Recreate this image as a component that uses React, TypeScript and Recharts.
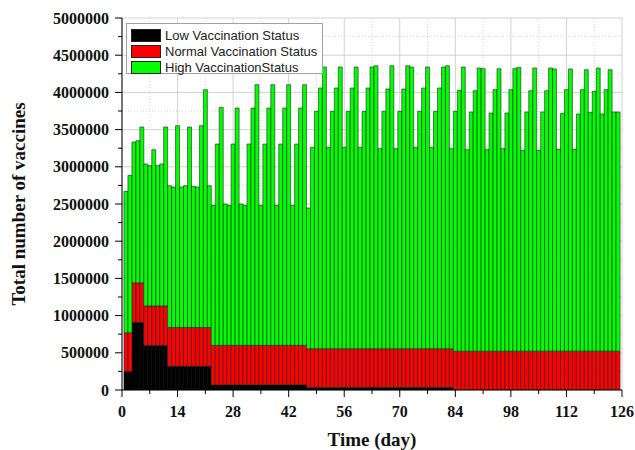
import React from 'react';
import { BarChart, Bar, XAxis, YAxis, CartesianGrid, Legend } from 'recharts';

document.body.style.margin = '0';

// day index of every bar (1..125)
const days: number[] = Array.from({ length: 125 }, (_, i) => i + 1);

// black layer
const lowVaccination = [
  250000, 250000,
  910000, 910000, 910000,
  600000, 600000, 600000, 600000, 600000, 600000,
  320000, 320000, 320000, 320000, 320000, 320000, 320000, 320000, 320000, 320000, 320000,
  70000, 70000, 70000, 70000, 70000, 70000, 70000, 70000, 70000, 70000, 70000, 70000,
  70000, 70000, 70000, 70000, 70000, 70000, 70000, 70000, 70000, 70000, 70000, 70000,
  35000, 35000, 35000, 35000, 35000, 35000, 35000, 35000, 35000, 35000, 35000, 35000, 35000,
  35000, 35000, 35000, 35000, 35000, 35000, 35000, 35000, 35000, 35000, 35000, 35000, 35000,
  35000, 35000, 35000, 35000, 35000, 35000, 35000, 35000, 35000, 35000, 35000,
  0, 0, 0, 0, 0, 0, 0, 0, 0, 0, 0, 0, 0, 0, 0, 0, 0, 0, 0, 0, 0,
  0, 0, 0, 0, 0, 0, 0, 0, 0, 0, 0, 0, 0, 0, 0, 0, 0, 0, 0, 0, 0,
];

// red layer
const normalVaccination = [
  520000, 520000,
  530000, 530000, 530000,
  530000, 530000, 530000, 530000, 530000, 530000,
  520000, 520000, 520000, 520000, 520000, 520000, 520000, 520000, 520000, 520000, 520000,
  530000, 530000, 530000, 530000, 530000, 530000, 530000, 530000, 530000, 530000, 530000, 530000,
  530000, 530000, 530000, 530000, 530000, 530000, 530000, 530000, 530000, 530000, 530000, 530000,
  520000, 520000, 520000, 520000, 520000, 520000, 520000, 520000, 520000, 520000, 520000, 520000, 520000,
  520000, 520000, 520000, 520000, 520000, 520000, 520000, 520000, 520000, 520000, 520000, 520000, 520000,
  520000, 520000, 520000, 520000, 520000, 520000, 520000, 520000, 520000, 520000, 520000,
  522000, 522000, 522000, 522000, 522000, 522000, 522000, 522000, 522000, 522000, 522000,
  522000, 522000, 522000, 522000, 522000, 522000, 522000, 522000, 522000, 522000,
  522000, 522000, 522000, 522000, 522000, 522000, 522000, 522000, 522000, 522000, 522000,
  522000, 522000, 522000, 522000, 522000, 522000, 522000, 522000, 522000, 522000,
];

// green layer
const highVaccination = [
  1900000, 2115000, 1893000, 1911000, 2095000, 1908000, 1885000, 2100000, 1885000, 1908000,
  2405000, 1906000, 1888000, 2713000, 1888000, 1906000, 2695000, 1897000, 1888000, 2713000,
  3197000, 1906000, 1882000, 2706000, 3199000, 1900000, 1882000, 2706000, 3190000, 1900000,
  1882000, 2706000, 3190000, 3504000, 1882000, 2706000, 3190000, 3504000, 1882000, 2706000,
  3190000, 3504000, 1882000, 2706000, 3190000, 3504000, 1891000, 2707000, 3191000, 3504000,
  3786000, 2707000, 3191000, 3504000, 3786000, 2707000, 3191000, 3504000, 3786000, 2707000,
  3191000, 3504000, 3786000, 3804000, 2689000, 3191000, 3491000, 3804000, 2689000, 3191000,
  3491000, 3804000, 3786000, 2707000, 3191000, 3504000, 3786000, 2707000, 3191000, 3504000,
  3786000, 3804000, 2689000, 3224000, 3506000, 3819000, 2708000, 3215000, 3501000, 3806000,
  3797000, 2708000, 3201000, 3515000, 3797000, 2722000, 3201000, 3515000, 3797000, 3815000,
  2699000, 3215000, 3501000, 3806000, 2699000, 3215000, 3501000, 3806000, 3793000, 2713000,
  3197000, 3515000, 3793000, 2713000, 3188000, 3515000, 3783000, 3210000, 3492000, 3806000,
  3188000, 3515000, 3783000, 3215000, 3215000,
];

const xTicks = [0, 7, 14, 21, 28, 35, 42, 49, 56, 63, 70, 77, 84, 91, 98, 105, 112, 119, 126];
const xMajor = [0, 14, 28, 42, 56, 70, 84, 98, 112, 126];
const xMinor = [7, 21, 35, 49, 63, 77, 91, 105, 119];

const yTicks = [
  0, 250000, 500000, 750000, 1000000, 1250000, 1500000, 1750000, 2000000, 2250000, 2500000,
  2750000, 3000000, 3250000, 3500000, 3750000, 4000000, 4250000, 4500000, 4750000, 5000000,
];
const yMajor = [0, 500000, 1000000, 1500000, 2000000, 2500000, 3000000, 3500000, 4000000, 4500000, 5000000];
const yMinor = [250000, 750000, 1250000, 1750000, 2250000, 2750000, 3250000, 3750000, 4250000, 4750000];

const legendItems = [
  { label: 'Low Vaccination Status', color: '#000000' },
  { label: 'Normal Vaccination Status', color: '#ff0000' },
  { label: 'High VaccinationStatus', color: '#00ff00' },
];

const data = days.map((day, i) => ({
  day,
  low: lowVaccination[i],
  normal: normalVaccination[i],
  high: highVaccination[i],
}));

const serif = "'Liberation Serif', 'Times New Roman', serif";

const XTick = ({ x, y, payload }: any) => {
  const major = xMajor.includes(payload.value);
  return (
    <g>
      <line x1={x} x2={x} y1={y} y2={y + (major ? 7 : 4)} stroke="#000" />
      {major && (
        <text x={x} y={y + 27} textAnchor="middle" fontFamily={serif} fontWeight="bold" fontSize={16} fill="#111">
          {payload.value}
        </text>
      )}
    </g>
  );
};

const YTick = ({ x, y, payload }: any) => {
  const major = yMajor.includes(payload.value);
  return (
    <g>
      <line x1={x - (major ? 7 : 4)} x2={x} y1={y} y2={y} stroke="#000" />
      {major && (
        <text x={x - 13} y={y + 5.5} textAnchor="end" fontFamily={serif} fontWeight="bold" fontSize={16} fill="#111">
          {payload.value}
        </text>
      )}
    </g>
  );
};

const XTitle = ({ viewBox }: any) => (
  <text x={viewBox.x + viewBox.width / 2} y={viewBox.y + 56} textAnchor="middle"
    fontFamily={serif} fontWeight="bold" fontSize={19} fill="#111">
    Time (day)
  </text>
);

const YTitle = ({ viewBox }: any) => {
  const cx = viewBox.x + 25;
  const cy = viewBox.y + viewBox.height / 2;
  return (
    <text x={cx} y={cy} transform={`rotate(-90, ${cx}, ${cy})`} textAnchor="middle"
      fontFamily={serif} fontWeight="bold" fontSize={19} fill="#111">
      Total number of vaccines
    </text>
  );
};

const renderLegend = () => (
  <div style={{
    boxSizing: 'border-box', width: 197, height: 51, border: '1px solid #a0a0a0', background: '#fff',
    padding: '3px 0 0 4px', fontFamily: "'Liberation Sans', Arial, sans-serif", fontSize: 13, color: '#222',
  }}>
    {legendItems.map((it) => (
      <div key={it.label} style={{ display: 'flex', alignItems: 'center', height: 16 }}>
        <span style={{ boxSizing: 'border-box', width: 30, height: 13, background: it.color, border: '1px solid #222', marginRight: 4 }} />
        <span style={{ lineHeight: '13px' }}>{it.label}</span>
      </div>
    ))}
  </div>
);

export default function App() {
  return (
    <BarChart width={635} height={450} data={data} barCategoryGap={0}
      margin={{ top: 18, right: 13, left: 0, bottom: 0 }}>
      <CartesianGrid stroke="#d2d2d2" horizontalValues={yMajor} verticalValues={xMajor} />
      <CartesianGrid stroke="#d2d2d2" strokeDasharray="1 2" horizontalValues={yMinor} verticalValues={xMinor} />
      <XAxis type="number" dataKey="day" domain={[0, 126]} ticks={xTicks} interval={0}
        tickSize={0} tickMargin={0} tickLine={false} tick={XTick} axisLine={{ stroke: '#000' }}
        height={60} label={XTitle} allowDataOverflow />
      <XAxis xAxisId="top" orientation="top" type="number" dataKey="day" domain={[0, 126]}
        tick={false} tickLine={false} axisLine={{ stroke: '#000' }} height={0} allowDataOverflow />
      <YAxis type="number" domain={[0, 5000000]} ticks={yTicks} interval={0}
        tickSize={0} tickMargin={0} tickLine={false} tick={YTick} axisLine={{ stroke: '#000' }}
        width={122} label={YTitle} allowDataOverflow />
      <YAxis yAxisId="right" orientation="right" type="number" domain={[0, 5000000]}
        tick={false} tickLine={false} axisLine={{ stroke: '#000' }} width={0} allowDataOverflow />
      <Legend layout="vertical" align="center" verticalAlign="middle" content={renderLegend}
        wrapperStyle={{ left: 126, top: 23, width: 197, height: 51 }} />
      <Bar dataKey="low" stackId="v" fill="#000000" stroke="#000000" strokeWidth={0.6} isAnimationActive={false} />
      <Bar dataKey="normal" stackId="v" fill="#ff0000" stroke="#222222" strokeWidth={0.6} isAnimationActive={false} />
      <Bar dataKey="high" stackId="v" fill="#00ff00" stroke="#222222" strokeWidth={0.6} isAnimationActive={false} />
    </BarChart>
  );
}
